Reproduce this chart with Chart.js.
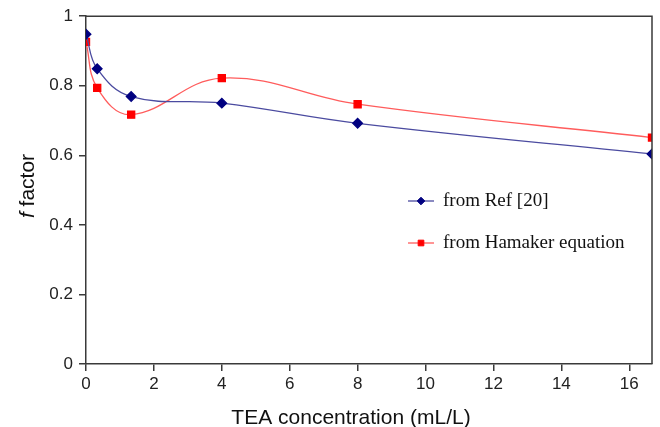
<!DOCTYPE html>
<html>
<head>
<meta charset="utf-8">
<script src="https://cdn.jsdelivr.net/npm/chart.js@4.4.1/dist/chart.umd.min.js"></script>
<style>
  html, body { margin: 0; padding: 0; background: #fff; }
  #wrap { width: 660px; height: 427px; position: relative; }
</style>
</head>
<body>
<div id="wrap"><canvas id="chartCanvas"></canvas></div>
<script>
// TEA concentration (mL/L)
const teaConc = [0, 0.33, 1.33, 4, 8, 16.67];
// f factor values
const fromRef = [0.948, 0.849, 0.769, 0.750, 0.692, 0.604];
const fromHamaker = [0.926, 0.794, 0.717, 0.822, 0.747, 0.651];
const xTicks = [0, 2, 4, 6, 8, 10, 12, 14, 16];
const seriesLabels = ['from Ref [20]', 'from Hamaker equation'];

const sansFont = '"Liberation Sans", Arial, sans-serif';
const serifFont = '"Liberation Serif", "Times New Roman", serif';

function toPoints(xs, ys) {
    return xs.map((x, i) => ({ x: x, y: ys[i] }));
}

// box around the plot + axis titles + inner legend
const decorations = {
    id: 'decorations',
    afterDraw(chart) {
        const ctx = chart.ctx;
        const a = chart.chartArea;
        ctx.save();
        ctx.strokeStyle = '#3a3a3a';
        ctx.lineWidth = 1.5;
        ctx.beginPath();
        ctx.moveTo(a.left, a.top);
        ctx.lineTo(a.right, a.top);
        ctx.lineTo(a.right, a.bottom);
        ctx.stroke();

        // x title
        ctx.fillStyle = '#111';
        ctx.font = '21px ' + sansFont;
        ctx.textAlign = 'center';
        ctx.textBaseline = 'middle';
        ctx.fillText('TEA concentration (mL/L)', (a.left + a.right) / 2 - 18, 418);

        // y title, italic f
        ctx.translate(28, 186);
        ctx.rotate(-Math.PI / 2);
        ctx.textAlign = 'left';
        ctx.font = 'italic 21px ' + sansFont;
        const fw = ctx.measureText('f').width;
        ctx.font = '21px ' + sansFont;
        const rw = ctx.measureText(' factor').width;
        const start = -(fw + rw) / 2;
        ctx.font = 'italic 21px ' + sansFont;
        ctx.fillText('f', start, 0);
        ctx.font = '21px ' + sansFont;
        ctx.fillText(' factor', start + fw, 0);
        ctx.restore();

        // legend
        ctx.save();
        const rows = [201, 243];
        chart.data.datasets.forEach((ds, i) => {
            const y = rows[i];
            ctx.strokeStyle = ds.borderColor;
            ctx.lineWidth = ds.borderWidth;
            ctx.beginPath();
            ctx.moveTo(408, y);
            ctx.lineTo(434, y);
            ctx.stroke();
            ctx.fillStyle = ds.pointBackgroundColor;
            ctx.strokeStyle = ds.pointBorderColor;
            ctx.lineWidth = 1;
            Chart.helpers.drawPoint(ctx, {
                pointStyle: ds.pointStyle, rotation: 0, borderWidth: 1, radius: ds.pointRadius - 1
            }, 421, y);
            ctx.fillStyle = '#111';
            ctx.font = '19px ' + serifFont;
            ctx.textAlign = 'left';
            ctx.textBaseline = 'middle';
            ctx.fillText(ds.label, 443, y);
        });
        ctx.restore();
    }
};

const cfg = {
    type: 'line',
    data: {
        datasets: [
            {
                label: seriesLabels[0],
                data: toPoints(teaConc, fromRef),
                borderColor: '#4b4ba0',
                borderWidth: 1.3,
                pointStyle: 'rectRot',
                pointRadius: 4.8,
                pointBackgroundColor: '#000080',
                pointBorderColor: '#000080',
                tension: 0.4
            },
            {
                label: seriesLabels[1],
                data: toPoints(teaConc, fromHamaker),
                borderColor: '#ff5c5c',
                borderWidth: 1.3,
                pointStyle: 'rect',
                pointRadius: 5,
                pointBackgroundColor: '#ff0000',
                pointBorderColor: '#ff0000',
                tension: 0.4
            }
        ]
    },
    options: {
        responsive: true,
        maintainAspectRatio: false,
        animation: false,
        layout: { padding: { top: 15, right: 8, left: 0, bottom: 0 } },
        plugins: {
            legend: { display: false },
            tooltip: { enabled: false }
        },
        scales: {
            x: {
                type: 'linear',
                min: 0,
                max: 16.67,
                afterBuildTicks: (axis) => { axis.ticks = xTicks.map(v => ({ value: v })); },
                afterFit: (axis) => { axis.height = 63; },
                grid: { drawOnChartArea: false, tickLength: 7, color: '#3a3a3a', lineWidth: 1.5 },
                border: { color: '#3a3a3a', width: 1.5 },
                ticks: { color: '#222', padding: 3, font: { family: sansFont, size: 17 }, maxRotation: 0 }
            },
            y: {
                min: 0,
                max: 1,
                ticks: {
                    stepSize: 0.2, color: '#222', padding: 6, font: { family: sansFont, size: 17 },
                    callback: (v) => String(Number(v.toFixed(1)))
                },
                afterFit: (axis) => { axis.width = 86; },
                grid: { drawOnChartArea: false, tickLength: 7, color: '#3a3a3a', lineWidth: 1.5 },
                border: { color: '#3a3a3a', width: 1.5 }
            }
        }
    },
    plugins: [decorations]
};

new Chart(document.getElementById('chartCanvas'), cfg);
</script>
</body>
</html>
